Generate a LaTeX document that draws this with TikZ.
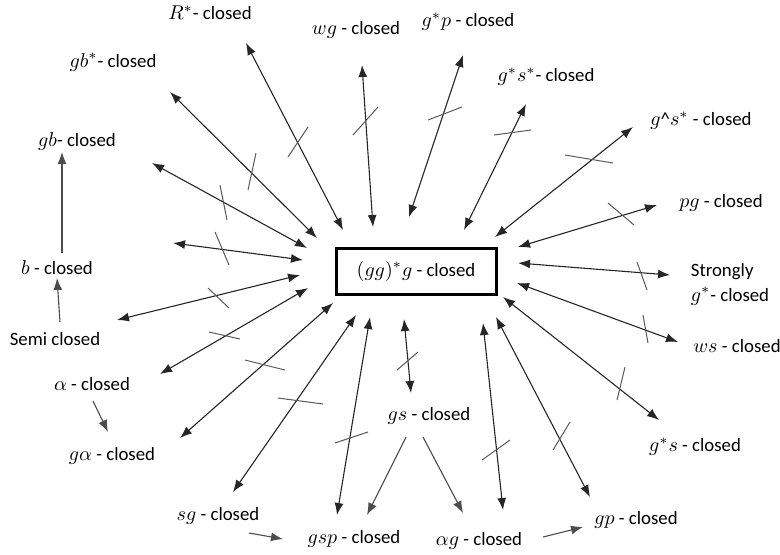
\documentclass[tikz,border=0pt]{standalone}
\usepackage{amsmath}
\usepackage{fontspec}
\setmainfont{Carlito}
\DeclareMathSizes{9.4}{10.4}{7.4}{5.5}
\usetikzlibrary{arrows.meta}

\begin{document}
\begin{tikzpicture}[x=0.5pt, y=-0.5pt,
    lbl/.style={font=\fontsize{9.4}{12.5}\selectfont, inner sep=0pt, align=left},
    both/.style={{Latex[length=6pt,width=4.5pt]}-{Latex[length=6pt,width=4.5pt]}, line width=0.55pt, black!85},
    one/.style={-{Latex[length=6pt,width=4.5pt]}, line width=0.55pt, black!70},
    tick/.style={line width=0.5pt, black!65}]
        \useasboundingbox (0,0) rectangle (780,554);

        % centre box
        \node[lbl, draw, line width=1.5pt, minimum width=80pt, minimum height=23pt] (gg) at (416,271) {$(gg)^{*}g$ - closed};

        % labels around it
        \node[lbl] (rs) at (210,13) {$R^{*}$- closed};
        \node[lbl] (wg) at (356,30) {$wg$ - closed};
        \node[lbl] (gsp1) at (468,22) {$g^{*}p$ - closed};
        \node[lbl] (gss) at (546,77) {$g^{*}s^{*}$- closed};
        \node[lbl] (ghs) at (701,121) {$g$\textasciicircum$s^{*}$ - closed};
        \node[lbl] (pg) at (721,203) {$pg$ - closed};
        \node[lbl] (strg) at (730,284) {Strongly\\$g^{*}$- closed};
        \node[lbl] (ws) at (737,346) {$ws$ - closed};
        \node[lbl] (gs1) at (695,447) {$g^{*}s$ - closed};
        \node[lbl] (gp) at (636,520) {$gp$ - closed};
        \node[lbl] (ag) at (479,541) {$\alpha g$ - closed};
        \node[lbl] (gs) at (429,416) {$gs$ - closed};
        \node[lbl] (gsp) at (354,539) {$gsp$ - closed};
        \node[lbl] (sg) at (218,516) {$sg$ - closed};
        \node[lbl] (ga) at (112,456) {$g\alpha$ - closed};
        \node[lbl] (al) at (92,384) {$\alpha$ - closed};
        \node[lbl] (semi) at (55,339) {Semi closed};
        \node[lbl] (b) at (57,268) {$b$ - closed};
        \node[lbl] (gb) at (77,141) {$gb$- closed};
        \node[lbl] (gbs) at (113,62) {$gb^{*}$- closed};

        % arrow ends
        \coordinate (rs-o) at (246,43);   \coordinate (rs-i) at (343,230);
        \coordinate (wg-o) at (362,65);   \coordinate (wg-i) at (373,227);
        \coordinate (gsp1-o) at (463,55); \coordinate (gsp1-i) at (409,217);
        \coordinate (gss-o) at (526,104); \coordinate (gss-i) at (464,230);
        \coordinate (ghs-o) at (633,127); \coordinate (ghs-i) at (495,237);
        \coordinate (pg-o) at (657,205);  \coordinate (pg-i) at (518,247);
        \coordinate (strg-o) at (670,275); \coordinate (strg-i) at (518,263);
        \coordinate (ws-o) at (678,342);  \coordinate (ws-i) at (517,283);
        \coordinate (gs1-o) at (659,420); \coordinate (gs1-i) at (503,297);
        \coordinate (gp-o) at (590,497);  \coordinate (gp-i) at (496,317);
        \coordinate (ag-o) at (503,510);  \coordinate (ag-i) at (483,323);
        \coordinate (gs-o) at (411,393);  \coordinate (gs-i) at (404,319);
        \coordinate (gsp-o) at (337,515); \coordinate (gsp-i) at (370,317);
        \coordinate (sg-o) at (233,492);  \coordinate (sg-i) at (356,315);
        \coordinate (ga-o) at (180,438);  \coordinate (ga-i) at (333,303);
        \coordinate (al-o) at (160,374);  \coordinate (al-i) at (308,288);
        \coordinate (semi-o) at (117,320); \coordinate (semi-i) at (300,275);
        \coordinate (b-o) at (173,243);   \coordinate (b-i) at (303,260);
        \coordinate (gb-o) at (152,163);  \coordinate (gb-i) at (307,248);
        \coordinate (gbs-o) at (170,92);  \coordinate (gbs-i) at (317,238);

        \path[both] (rs-o) edge (rs-i)
                    (wg-o) edge (wg-i)
                    (gsp1-o) edge (gsp1-i)
                    (gss-o) edge (gss-i)
                    (ghs-o) edge (ghs-i)
                    (pg-o) edge (pg-i)
                    (strg-o) edge (strg-i)
                    (ws-o) edge (ws-i)
                    (gs1-o) edge (gs1-i)
                    (gp-o) edge (gp-i)
                    (ag-o) edge (ag-i)
                    (gs-o) edge (gs-i)
                    (gsp-o) edge (gsp-i)
                    (sg-o) edge (sg-i)
                    (ga-o) edge (ga-i)
                    (al-o) edge (al-i)
                    (semi-o) edge (semi-i)
                    (b-o) edge (b-i)
                    (gb-o) edge (gb-i)
                    (gbs-o) edge (gbs-i);

        % non-implication strokes
        \draw[tick] (288,157) -- (308,127);
        \draw[tick] (353,135) -- (378,107);
        \draw[tick] (428,120) -- (462,107);
        \draw[tick] (494,135) -- (531,130);
        \draw[tick] (565,155) -- (613,163);
        \draw[tick] (608,203) -- (634,225);
        \draw[tick] (637,262) -- (647,290);
        \draw[tick] (643,315) -- (648,343);
        \draw[tick] (617,400) -- (625,367);
        \draw[tick] (553,450) -- (570,422);
        \draw[tick] (482,460) -- (510,440);
        \draw[tick] (397,370) -- (418,352);
        \draw[tick] (335,443) -- (368,432);
        \draw[tick] (278,398) -- (323,404);
        \draw[tick] (245,360) -- (285,370);
        \draw[tick] (209,332) -- (240,339);
        \draw[tick] (208,288) -- (229,308);
        \draw[tick] (215,232) -- (229,265);
        \draw[tick] (220,185) -- (227,220);
        \draw[tick] (248,190) -- (256,153);

        % one-way arrows between labels
        \coordinate (b-up) at (62,253);     \coordinate (gb-dn) at (62,152);
        \coordinate (semi-up) at (60,322);  \coordinate (b-dn) at (57,278);
        \coordinate (al-dn) at (93,401);    \coordinate (ga-up) at (108,432);
        \coordinate (sg-rt) at (249,533);   \coordinate (gsp-lt) at (283,539);
        \coordinate (gs-dl) at (406,437);   \coordinate (gsp-up) at (367,515);
        \coordinate (gs-dr) at (423,437);   \coordinate (ag-up) at (463,513);
        \coordinate (ag-rt) at (543,537);   \coordinate (gp-lt) at (583,527);

        \path[one] (b-up) edge (gb-dn)
                   (semi-up) edge (b-dn)
                   (al-dn) edge (ga-up)
                   (sg-rt) edge (gsp-lt)
                   (gs-dl) edge (gsp-up)
                   (gs-dr) edge (ag-up)
                   (ag-rt) edge (gp-lt);
\end{tikzpicture}
\end{document}
